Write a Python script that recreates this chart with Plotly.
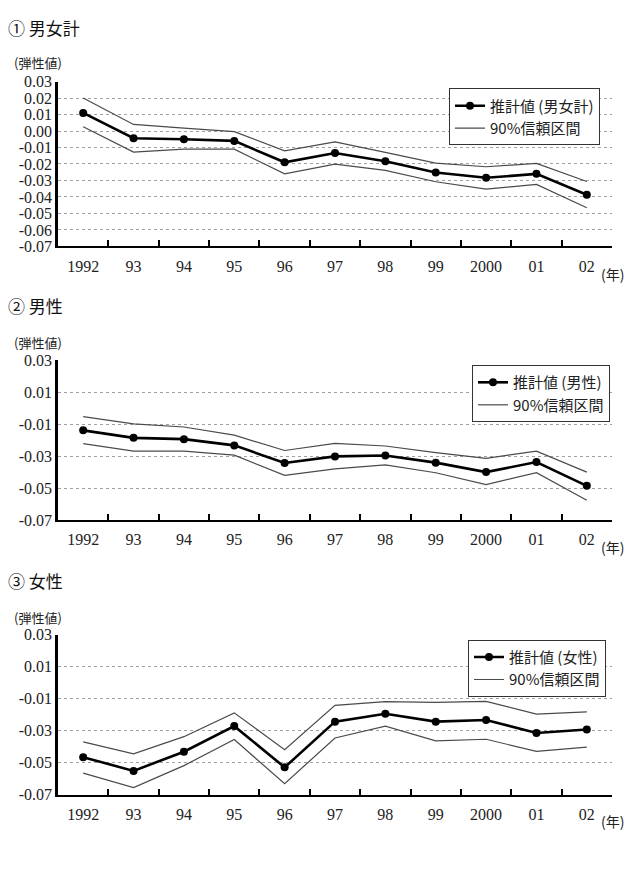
import plotly.graph_objects as go

W, H = 630, 892

years = ["1992", "93", "94", "95", "96", "97", "98", "99", "2000", "01", "02"]

total_est = [0.011, -0.0044, -0.005, -0.006, -0.019, -0.0134, -0.0183, -0.0252, -0.0284, -0.026, -0.0387]
total_up = [0.020, 0.004, 0.0018, -0.0004, -0.012, -0.0066, -0.013, -0.0195, -0.0217, -0.0197, -0.0306]
total_lo = [0.0026, -0.0128, -0.011, -0.011, -0.026, -0.0201, -0.0239, -0.0308, -0.0353, -0.0324, -0.0466]

male_est = [-0.0139, -0.0186, -0.0194, -0.0233, -0.0343, -0.0302, -0.0296, -0.0341, -0.040, -0.0337, -0.0486]
male_up = [-0.0053, -0.0098, -0.0118, -0.0169, -0.0265, -0.022, -0.0237, -0.0278, -0.0314, -0.0269, -0.040]
male_lo = [-0.0222, -0.0269, -0.0269, -0.0294, -0.042, -0.038, -0.0355, -0.0404, -0.0478, -0.0404, -0.0576]

female_est = [-0.0465, -0.0551, -0.0431, -0.0271, -0.0529, -0.0243, -0.0194, -0.0243, -0.0233, -0.0314, -0.0292]
female_up = [-0.0369, -0.0445, -0.0337, -0.0188, -0.0418, -0.0141, -0.0118, -0.0122, -0.0116, -0.0196, -0.0182]
female_lo = [-0.0565, -0.0655, -0.0518, -0.0355, -0.0631, -0.0345, -0.0271, -0.0363, -0.0353, -0.0429, -0.0402]

yticks_1 = [0.03, 0.02, 0.01, 0.00, -0.01, -0.02, -0.03, -0.04, -0.05, -0.06, -0.07]
yticklabels_1 = ["0.03", "0.02", "0.01", "0.00", "-0.01", "-0.02", "-0.03", "-0.04", "-0.05", "-0.06", "-0.07"]
yticks_2 = [0.03, 0.01, -0.01, -0.03, -0.05, -0.07]
yticklabels_2 = ["0.03", "0.01", "-0.01", "-0.03", "-0.05", "-0.07"]

titles = ["① 男女計", "② 男性", "③ 女性"]
est_names = ["推計値 (男女計)", "推計値 (男性)", "推計値 (女性)"]
ci_name = "90%信頼区間"
y_unit = "(弾性値)"
x_unit = "(年)"

panels = [
    (total_est, total_up, total_lo, yticks_1, yticklabels_1),
    (male_est, male_up, male_lo, yticks_2, yticklabels_2),
    (female_est, female_up, female_lo, yticks_2, yticklabels_2),
]

# pixel layout (top, bottom of plot area)
plot_px = [(75, 243), (359, 522), (639, 802)]
title_px = [20, 303, 584]
unit_px = [56, 341, 621]
xunit_px = [271, 549, 829]
legend_px = [(449, 82), (472, 364), (468, 644)]
x_left, x_right = 58, 612

serif = "Liberation Serif"
cjk = "Noto Sans CJK JP"

fig = go.Figure()
layout = dict(
    width=W, height=H,
    margin=dict(l=0, r=0, t=0, b=0),
    paper_bgcolor="white", plot_bgcolor="white",
    showlegend=True,
    annotations=[],
)

for i, (est, up, lo, tv, tt) in enumerate(panels):
    n = "" if i == 0 else str(i + 1)
    xa, ya = "x" + n, "y" + n
    lg = "legend" + n
    fig.add_trace(go.Scatter(x=years, y=est, mode="lines+markers", name=est_names[i],
                             line=dict(color="black", width=2.6),
                             marker=dict(color="black", size=8),
                             xaxis=xa, yaxis=ya, legend=lg))
    fig.add_trace(go.Scatter(x=years, y=up, mode="lines", name=ci_name,
                             line=dict(color="#4a4a4a", width=1.2),
                             xaxis=xa, yaxis=ya, legend=lg))
    fig.add_trace(go.Scatter(x=years, y=lo, mode="lines", name=ci_name, showlegend=False,
                             line=dict(color="#4a4a4a", width=1.2),
                             xaxis=xa, yaxis=ya, legend=lg))
    top, bot = plot_px[i]
    layout["xaxis" + n] = dict(
        domain=[x_left / W, x_right / W], anchor=ya, type="category",
        range=[-0.5, len(years) - 0.5],
        showline=True, linecolor="black", linewidth=2,
        ticks="inside", tickson="boundaries", ticklen=6, tickwidth=2, tickcolor="black",
        showgrid=False, tickfont=dict(family=serif, size=16, color="#222"),
        ticklabelstandoff=4,
        fixedrange=True,
    )
    layout["yaxis" + n] = dict(
        domain=[1 - bot / H, 1 - top / H], anchor=xa,
        range=[-0.07, 0.03], tickvals=tv, ticktext=tt,
        showline=True, linecolor="black", linewidth=2.5,
        ticks="", showgrid=True, gridcolor="#a0a0a0", gridwidth=1, griddash="dot",
        zeroline=False, tickfont=dict(family=serif, size=16, color="#222"),
        fixedrange=True,
    )
    lx, ly = legend_px[i]
    layout[lg] = dict(
        x=lx / W, y=1 - ly / H, xanchor="left", yanchor="top",
        xref="paper", yref="paper",
        bgcolor="white", bordercolor="#333", borderwidth=1,
        font=dict(family=cjk, size=15, color="#222"),
        itemwidth=30, tracegroupgap=0,
    )
    layout["annotations"] += [
        dict(text=titles[i], x=6 / W, y=1 - title_px[i] / H, xref="paper", yref="paper",
             xanchor="left", yanchor="middle", showarrow=False,
             font=dict(family=cjk, size=17, color="#111")),
        dict(text=y_unit, x=12 / W, y=1 - unit_px[i] / H, xref="paper", yref="paper",
             xanchor="left", yanchor="middle", showarrow=False,
             font=dict(family=cjk, size=13, color="#222")),
        dict(text=x_unit, x=626 / W, y=1 - xunit_px[i] / H, xref="paper", yref="paper",
             xanchor="right", yanchor="middle", showarrow=False,
             font=dict(family=cjk, size=14, color="#222")),
    ]

fig.update_layout(**layout)
fig.write_html("out.html")
